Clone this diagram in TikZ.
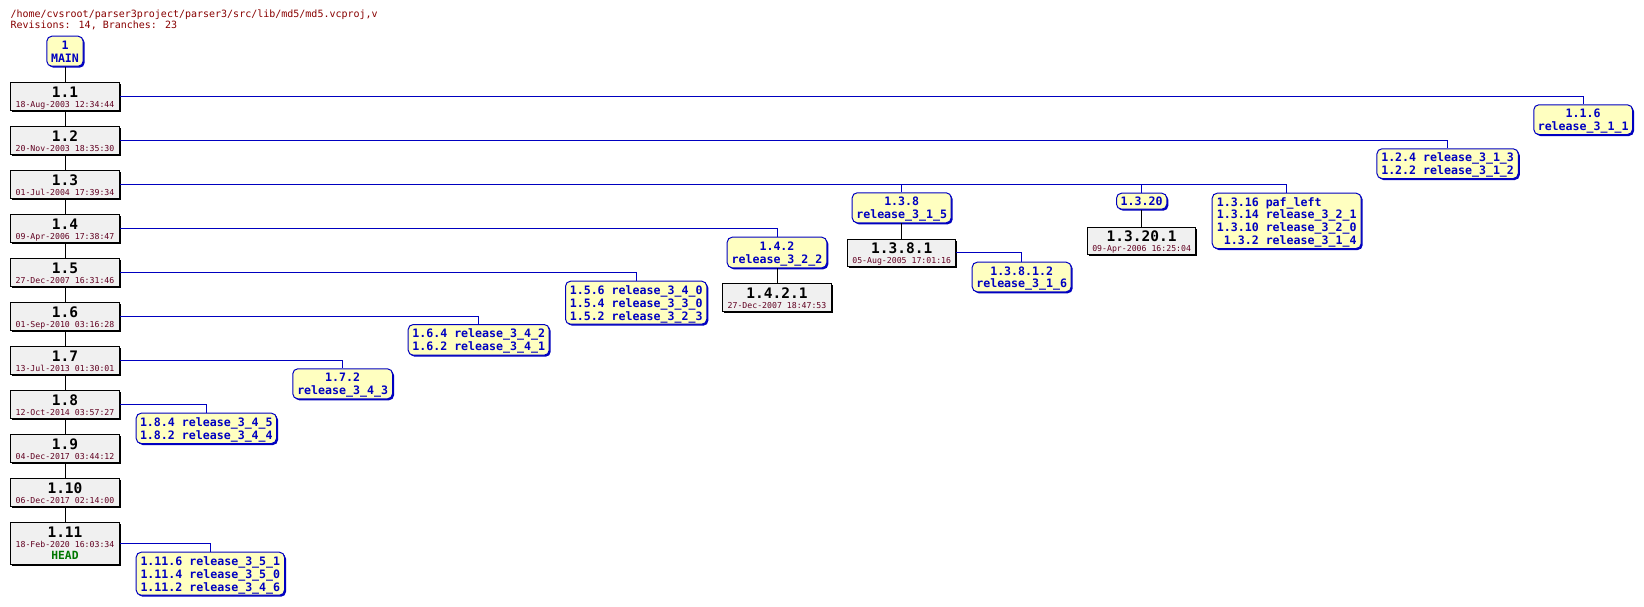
\documentclass[tikz,border=0pt]{standalone}
\usepackage{fontspec}
\newfontfamily\dvm{DejaVu Sans Mono}
\usetikzlibrary{shadows}
\definecolor{tagfill}{HTML}{FFFFC0}
\definecolor{tagblue}{HTML}{0000C0}
\definecolor{revfill}{HTML}{F0F0F0}
\definecolor{datecol}{HTML}{600020}
\definecolor{titlecol}{HTML}{880000}
\definecolor{headcol}{HTML}{007800}
\newcommand\tstrut{\rule[-3pt]{0pt}{15pt}}
\newcommand\revnode[6]{% name, cx, top, number, date, height
  \node[revbox, minimum height=#6pt] (#1) at (#2,{#3+#6/2+0.5}) {};
  \node[revnum] (#1n) at ([yshift=-15.2pt]#1.north) {#4};
  \node[revdate] (#1d) at ([yshift=-25pt]#1.north) {#5};
}
\begin{document}
\begin{tikzpicture}[x=1pt,y=-1pt,
  revbox/.style={draw=black, fill=revfill, line width=1pt, minimum width=108.4pt,
    inner sep=0pt, drop shadow={shadow xshift=1.5pt,shadow yshift=-1.5pt,fill=black,opacity=1}},
  revnum/.style={anchor=base, inner sep=0pt, font=\dvm\bfseries\fontsize{14.5pt}{16pt}\selectfont},
  revdate/.style={anchor=base, inner sep=0pt, text=datecol, font=\dvm\fontsize{8.2pt}{9pt}\selectfont},
  headtxt/.style={anchor=base, inner sep=0pt, text=headcol, font=\dvm\bfseries\fontsize{11.3pt}{12pt}\selectfont},
  tagbox/.style={draw=tagblue, fill=tagfill, line width=1pt, rounded corners=5pt, text=tagblue,
    inner sep=0pt, align=center,
    font={\dvm\bfseries\fontsize{11.6pt}{12.8pt}\selectfont\lineskiplimit=-20pt},
    drop shadow={shadow xshift=1.5pt,shadow yshift=-1.5pt,fill=tagblue,opacity=1}},
  tagleft/.style={tagbox, align=left},
  trunk/.style={draw=black, line width=1pt},
  brline/.style={draw=tagblue, line width=1pt},
  titletext/.style={anchor=base west, inner sep=0pt, text=titlecol, font=\dvm\fontsize{10pt}{12pt}\selectfont}
]
\useasboundingbox[fill=white] (0,0) rectangle (1644,606);

\node[titletext] (title1) at (10.3,17) {/home/cvsroot/parser3project/parser3/src/lib/md5/md5.vcproj,v};
\node[titletext] (title2) at (10.3,28.7) {Revisions: 14, Branches: 23};

% MAIN
\node[tagbox, minimum width=36.3pt, minimum height=30pt] (main) at (65,51.2) {\tstrut 1\\\tstrut MAIN};

% trunk revisions
\revnode{r11}{65}{82.3}{1.1}{18-Aug-2003 12:34:44}{27.5}
\revnode{r12}{65}{126.3}{1.2}{20-Nov-2003 18:35:30}{27.5}
\revnode{r13}{65}{170.3}{1.3}{01-Jul-2004 17:39:34}{27.5}
\revnode{r14}{65}{214.3}{1.4}{09-Apr-2006 17:38:47}{27.5}
\revnode{r15}{65}{258.3}{1.5}{27-Dec-2007 16:31:46}{27.5}
\revnode{r16}{65}{302.3}{1.6}{01-Sep-2010 03:16:28}{27.5}
\revnode{r17}{65}{346.3}{1.7}{13-Jul-2013 01:30:01}{27.5}
\revnode{r18}{65}{390.3}{1.8}{12-Oct-2014 03:57:27}{27.5}
\revnode{r19}{65}{434.3}{1.9}{04-Dec-2017 03:44:12}{27.5}
\revnode{r110}{65}{478.3}{1.10}{06-Dec-2017 02:14:00}{27.5}
\revnode{r111}{65}{522.3}{1.11}{18-Feb-2020 16:03:34}{41.4}
\node[headtxt] (r111h) at ([yshift=-37pt]r111.north) {HEAD};

% branch tag boxes
\node[tagbox, minimum width=98.7pt, minimum height=29.7pt] (b116) at (1583.15,119.65) {\tstrut 1.1.6\\\tstrut release\_3\_1\_1};
\node[tagleft, minimum width=141.3pt, minimum height=29.7pt] (b124) at (1447.6,163.65) {\tstrut 1.2.4 release\_3\_1\_3\\\tstrut 1.2.2 release\_3\_1\_2};
\node[tagbox, minimum width=50.3pt, minimum height=16pt] (b1320) at (1141.65,201.2) {\tstrut 1.3.20};
\node[tagleft, minimum width=149pt, minimum height=55.3pt] (b1316) at (1286.7,220.85) {\tstrut 1.3.16 paf\_left\\\tstrut 1.3.14 release\_3\_2\_1\\\tstrut 1.3.10 release\_3\_2\_0\\\tstrut \phantom{1}1.3.2 release\_3\_1\_4};
\node[tagbox, minimum width=99pt, minimum height=30pt] (b138) at (901.7,207.8) {\tstrut 1.3.8\\\tstrut release\_3\_1\_5};
\node[tagbox, minimum width=99pt, minimum height=29.6pt] (b13812) at (1021.7,277) {\tstrut 1.3.8.1.2\\\tstrut release\_3\_1\_6};
\node[tagbox, minimum width=99.6pt, minimum height=30.6pt] (b142) at (777,252.5) {\tstrut 1.4.2\\\tstrut release\_3\_2\_2};
\node[tagleft, minimum width=141.3pt, minimum height=43pt] (b156) at (636.15,302.7) {\tstrut 1.5.6 release\_3\_4\_0\\\tstrut 1.5.4 release\_3\_3\_0\\\tstrut 1.5.2 release\_3\_2\_3};
\node[tagleft, minimum width=141pt, minimum height=30.7pt] (b164) at (478.7,339.85) {\tstrut 1.6.4 release\_3\_4\_2\\\tstrut 1.6.2 release\_3\_4\_1};
\node[tagbox, minimum width=99.7pt, minimum height=30pt] (b172) at (342.65,383.8) {\tstrut 1.7.2\\\tstrut release\_3\_4\_3};
\node[tagleft, minimum width=140.3pt, minimum height=30.3pt] (b184) at (206.35,428.35) {\tstrut 1.8.4 release\_3\_4\_5\\\tstrut 1.8.2 release\_3\_4\_4};
\node[tagleft, minimum width=148.3pt, minimum height=43pt] (b1116) at (210.35,573.7) {\tstrut 1.11.6 release\_3\_5\_1\\\tstrut 1.11.4 release\_3\_5\_0\\\tstrut 1.11.2 release\_3\_4\_6};

% branch revisions
\revnode{r1381}{901.7}{238.5}{1.3.8.1}{05-Aug-2005 17:01:16}{27.5}
\revnode{r1421}{777}{283.3}{1.4.2.1}{27-Dec-2007 18:47:53}{27.5}
\revnode{r13201}{1141.65}{226.7}{1.3.20.1}{09-Apr-2006 16:25:04}{27.5}

% trunk connectors
\draw[trunk] (main.south) -- (r11.north);
\draw[trunk] (r11.south) -- (r12.north);
\draw[trunk] (r12.south) -- (r13.north);
\draw[trunk] (r13.south) -- (r14.north);
\draw[trunk] (r14.south) -- (r15.north);
\draw[trunk] (r15.south) -- (r16.north);
\draw[trunk] (r16.south) -- (r17.north);
\draw[trunk] (r17.south) -- (r18.north);
\draw[trunk] (r18.south) -- (r19.north);
\draw[trunk] (r19.south) -- (r110.north);
\draw[trunk] (r110.south) -- (r111.north);
\draw[trunk] (b138.south) -- (r1381.north);
\draw[trunk] (b142.south) -- (r1421.north);
\draw[trunk] (b1320.south) -- (r13201.north);

% branch connectors
\draw[brline] (r11.east) -| (b116.north);
\draw[brline] (r12.east) -| (b124.north);
\draw[brline] (r13.east) -| (b1316.north);
\draw[brline] (b138.north |- r13.east) -- (b138.north);
\draw[brline] (b1320.north |- r13.east) -- (b1320.north);
\draw[brline] (r14.east) -| (b142.north);
\draw[brline] (r15.east) -| (b156.north);
\draw[brline] (r16.east) -| (b164.north);
\draw[brline] (r17.east) -| (b172.north);
\draw[brline] (r18.east) -| (b184.north);
\draw[brline] (r111.east) -| (b1116.north);
\draw[brline] (r1381.east) -| (b13812.north);
\end{tikzpicture}
\end{document}
